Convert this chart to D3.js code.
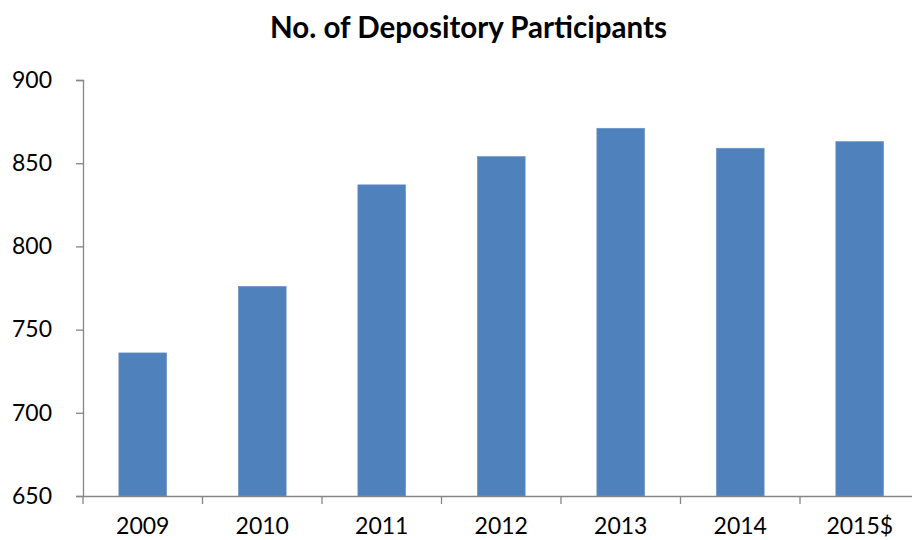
<!DOCTYPE html>
<html><head><meta charset="utf-8">
<script src="https://cdn.jsdelivr.net/npm/d3@7"></script>
<style>body{margin:0;background:#fff}svg{display:block}</style>
</head><body>
<svg id="c" width="912" height="540"></svg>
<script>
const categories = ["2009","2010","2011","2012","2013","2014","2015$"];
const values = [736, 776, 837, 854, 871, 859, 863];
const yTicks = [650, 700, 750, 800, 850, 900];
const title = "No. of Depository Participants";

(function(){
const svg = d3.select("#c");
const mL = 83, mR = 919.5, mT = 80, mB = 496;
const font = "Lato, 'Open Sans', sans-serif";

const x = d3.scaleBand().domain(categories).range([mL, mR]).paddingInner(0.6).paddingOuter(0.3);
const xb = d3.scaleBand().domain(categories).range([mL, mR]);
const y = d3.scaleLinear().domain([650, 900]).range([mB, mT]);

svg.append("g").selectAll("rect").data(values).join("rect")
  .attr("x", (d,i) => x(categories[i]))
  .attr("width", x.bandwidth())
  .attr("y", d => y(d))
  .attr("height", d => mB - y(d))
  .attr("fill", "#4F81BD")
  .attr("stroke", "#6a95c8").attr("stroke-width", 0.6);

const ya = svg.append("g").attr("transform", `translate(${mL},0)`)
  .call(d3.axisLeft(y).tickValues(yTicks).tickSize(7).tickPadding(24));
ya.select(".domain").attr("stroke", "#868686").attr("stroke-width", 1.3);
ya.selectAll(".tick line").attr("stroke", "#868686").attr("stroke-width", 1.3);
ya.selectAll(".tick text").attr("font-family", font).attr("font-size", 23).attr("fill", "#000");

const xa = svg.append("g").attr("transform", `translate(0,${mB})`)
  .call(d3.axisBottom(xb).tickSize(0).tickPadding(22));
xa.select(".domain").attr("stroke", "#868686").attr("stroke-width", 1.3);
xa.selectAll(".tick text").attr("font-family", font).attr("font-size", 23).attr("fill", "#000");
const bounds = categories.map(c => xb(c)).concat([mR]);
xa.selectAll(".bt").data(bounds).join("line").attr("class","bt")
  .attr("x1", d => d).attr("x2", d => d).attr("y1", 0).attr("y2", 8)
  .attr("stroke", "#868686").attr("stroke-width", 1.3);

const t = svg.append("text").attr("x", 468.5).attr("y", 38).attr("text-anchor", "middle")
  .attr("font-family", font).attr("font-weight", "bold").attr("font-size", 26).attr("fill", "#000")
  .text(title);
const w = t.node().getComputedTextLength();
t.attr("font-size", 26 * 397 / w);
})();
</script>
</body></html>
